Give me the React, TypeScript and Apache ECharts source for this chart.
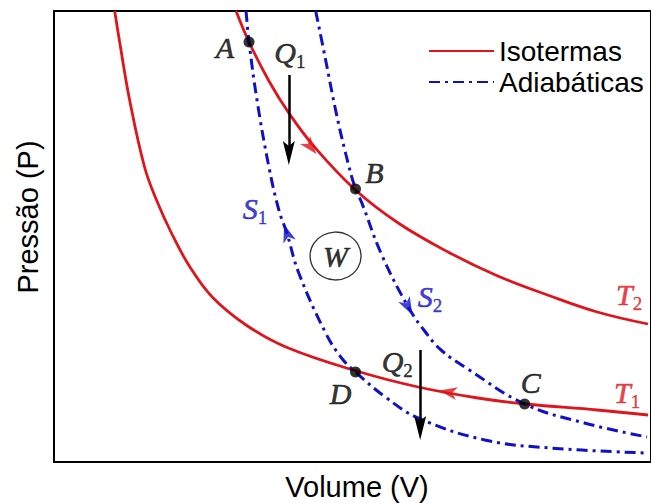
import React, { useEffect, useRef } from "react";
import * as echarts from "echarts";

// Volume (V) / Pressure (P) readings, arbitrary units
const T2_V = [183, 196, 216, 236, 261, 303, 346, 396, 446, 496, 546, 597];
const T2_P = [451, 420, 381, 349, 316, 272, 239, 210, 186, 167, 150, 138];

const T1_V = [61, 66, 76, 91, 103, 118, 136, 159, 193, 233, 304, 366, 426, 474, 546, 597];
const T1_P = [451, 420, 362, 295, 262, 229, 196, 165, 137, 115, 91, 75, 64, 58, 52, 47];

const S1_V = [193, 196, 204, 216, 226, 234, 246, 273, 289, 303, 333, 366, 433, 499, 596];
const S1_P = [451, 420, 362, 295, 252, 229, 189, 129, 104, 90, 65, 44, 22, 14, 9];

const S2_V = [263, 273, 283, 293, 303, 309, 329, 356, 374, 389, 416, 473, 533, 596];
const S2_P = [451, 402, 352, 309, 273, 260, 208, 155, 129, 112, 93, 58, 39, 25];

const STATE_NAMES = ["A", "B", "C", "D"];
const STATE_V = [196, 303, 473, 303];
const STATE_P = [420, 273, 58, 90];

const DIR_V = [258, 396, 234, 356];
const DIR_P = [315, 70, 229, 155];

const HEAT_NAMES = ["Q1", "Q2"];
const HEAT_V = [236, 368];
const HEAT_P_FROM = [387, 112];
const HEAT_P_TO = [309, 34];

const ANN_MAIN = ["Q", "S", "S", "T", "Q", "T"];
const ANN_SUB = ["1", "1", "2", "2", "2", "1"];
const ANN_V = [237, 202, 378, 578, 345, 576];
const ANN_P = [410, 254, 166, 168, 101, 70];

const WORK_V = [283];
const WORK_P = [206];

const LEGEND = ["Isotermas", "Adiabáticas"];

const RED = "#e0141b";
const BLUE = "#1010c8";
const INK = "#000000";
const SERIF = "Liberation Serif";
const SANS = "Liberation Sans";

const zip = (v: number[], p: number[]) => v.map((x, i) => [x, p[i]]);

export default function App() {
  const ref = useRef<HTMLDivElement>(null);

  useEffect(() => {
    const chart = echarts.init(ref.current!, null, { renderer: "svg" });

    const stateOffsets: Record<string, number[]> = {
      A: [-24, 5],
      B: [19, -17],
      C: [6, -22],
      D: [-15, 21],
    };
    const dirAngles = [-141, 80, 18, -152];
    const dirColors = [RED, RED, BLUE, BLUE];
    const annColorKey = ["k", "b", "b", "r", "k", "r"];

    const arrowPath = "path://M0,0L6,15L0,11L-6,15Z";
    const heatArrow = "path://M0,0L6,24L0,19L-6,24Z";

    const letterStyle = {
      fontFamily: SERIF,
      fontStyle: "italic",
      fontSize: 30,
      color: INK,
      textBorderWidth: 0.6,
      textBorderColor: INK,
      textShadowBlur: 0,
    };

    const rich: any = {};
    const colors: Record<string, string> = { k: INK, b: BLUE, r: RED };
    Object.keys(colors).forEach((k) => {
      rich["m" + k] = {
        fontFamily: SERIF,
        fontStyle: "italic",
        fontSize: 30,
        color: colors[k],
        lineHeight: 30,
        verticalAlign: "bottom",
        textBorderWidth: 0.6,
        textBorderColor: colors[k],
      };
      rich["s" + k] = {
        fontFamily: SERIF,
        fontSize: 19,
        color: colors[k],
        lineHeight: 19,
        verticalAlign: "bottom",
        padding: [0, 0, -4, 0],
        textBorderWidth: 0.4,
        textBorderColor: colors[k],
      };
    });

    const option: any = {
      animation: false,
      backgroundColor: "#ffffff",
      grid: {
        left: 54,
        top: 11,
        right: -3,
        bottom: 41,
        show: true,
        borderColor: "#000",
        borderWidth: 2,
        backgroundColor: "transparent",
      },
      xAxis: {
        type: "value",
        min: 0,
        max: 600,
        axisLine: { show: false },
        axisTick: { show: false },
        axisLabel: { show: false },
        splitLine: { show: false },
      },
      yAxis: {
        type: "value",
        min: 0,
        max: 451,
        axisLine: { show: false },
        axisTick: { show: false },
        axisLabel: { show: false },
        splitLine: { show: false },
      },
      legend: {
        data: LEGEND,
        orient: "vertical",
        left: 423,
        top: 32,
        itemWidth: 65,
        itemHeight: 14,
        itemGap: 3,
        itemStyle: { opacity: 0 },
        textStyle: {
          fontFamily: SANS,
          fontSize: 28,
          lineHeight: 28,
          color: INK,
          padding: [0, 0, 0, 0],
        },
      },
      graphic: [
        {
          type: "text",
          x: 357,
          y: 487,
          style: {
            text: "Volume (V)",
            fontFamily: SANS,
            fontSize: 29,
            fill: INK,
            align: "center",
            verticalAlign: "middle",
          },
        },
        {
          type: "text",
          x: 28,
          y: 217,
          rotation: Math.PI / 2,
          style: {
            text: "Pressão (P)",
            fontFamily: SANS,
            fontSize: 29,
            fill: INK,
            align: "center",
            verticalAlign: "middle",
          },
        },
      ],
      series: [
        {
          name: "Isotermas",
          type: "line",
          data: zip(T2_V, T2_P),
          smooth: 0.4,
          symbol: "none",
          lineStyle: { color: RED, width: 2.8 },
          itemStyle: { color: RED },
          z: 2,
        },
        {
          name: "Isotermas",
          type: "line",
          data: zip(T1_V, T1_P),
          smooth: 0.4,
          symbol: "none",
          lineStyle: { color: RED, width: 2.8 },
          itemStyle: { color: RED },
          z: 2,
        },
        {
          name: "Adiabáticas",
          type: "line",
          data: zip(S1_V, S1_P),
          smooth: 0.4,
          symbol: "none",
          lineStyle: { color: BLUE, width: 3, type: [11, 5, 3, 5] },
          itemStyle: { color: BLUE },
          z: 3,
        },
        {
          name: "Adiabáticas",
          type: "line",
          data: zip(S2_V, S2_P),
          smooth: 0.4,
          symbol: "none",
          lineStyle: { color: BLUE, width: 3, type: [11, 5, 3, 5] },
          itemStyle: { color: BLUE },
          z: 3,
        },
        {
          name: "heat",
          type: "line",
          data: [],
          symbol: "none",
          markLine: {
            silent: true,
            symbol: ["none", heatArrow],
            symbolSize: [12, 24],
            lineStyle: { color: "#000", width: 2.5, type: "solid" },
            label: { show: false },
            data: HEAT_NAMES.map((n, i) => [
              { name: n, coord: [HEAT_V[i], HEAT_P_FROM[i]] },
              { coord: [HEAT_V[i], HEAT_P_TO[i]] },
            ]),
          },
          z: 4,
        },
        {
          name: "direction",
          type: "scatter",
          symbol: arrowPath,
          symbolSize: [13, 18],
          data: DIR_V.map((v, i) => ({
            value: [v, DIR_P[i]],
            symbolRotate: dirAngles[i],
            itemStyle: { color: dirColors[i] },
          })),
          z: 5,
        },
        {
          name: "states",
          type: "scatter",
          symbol: "circle",
          symbolSize: 11,
          itemStyle: { color: "#000" },
          data: STATE_NAMES.map((n, i) => ({
            name: n,
            value: [STATE_V[i], STATE_P[i]],
            label: { offset: stateOffsets[n] },
          })),
          label: {
            show: true,
            position: "inside",
            formatter: "{b}",
            ...letterStyle,
          },
          z: 6,
        },
        {
          name: "annotations",
          type: "scatter",
          symbolSize: 0,
          itemStyle: { color: "transparent" },
          data: ANN_MAIN.map((m, i) => ({
            name: m + ANN_SUB[i],
            value: [ANN_V[i], ANN_P[i]],
            label: {
              formatter:
                "{m" + annColorKey[i] + "|" + m + "}{s" + annColorKey[i] + "|" + ANN_SUB[i] + "}",
            },
          })),
          label: { show: true, position: "inside", rich },
          z: 6,
        },
        {
          name: "work",
          type: "scatter",
          symbol: "circle",
          symbolSize: [51, 48],
          itemStyle: { color: "rgba(0,0,0,0)", borderColor: "#000", borderWidth: 1.3 },
          data: WORK_V.map((v, i) => ({ name: "W", value: [v, WORK_P[i]] })),
          label: {
            show: true,
            position: "inside",
            formatter: "{b}",
            ...letterStyle,
          },
          z: 6,
        },
      ],
    };

    chart.setOption(option);
    return () => chart.dispose();
  }, []);

  return (
    <div
      ref={ref}
      style={{
        position: "absolute",
        left: 0,
        top: 0,
        width: 651,
        height: 503,
        background: "#fff",
      }}
    />
  );
}
